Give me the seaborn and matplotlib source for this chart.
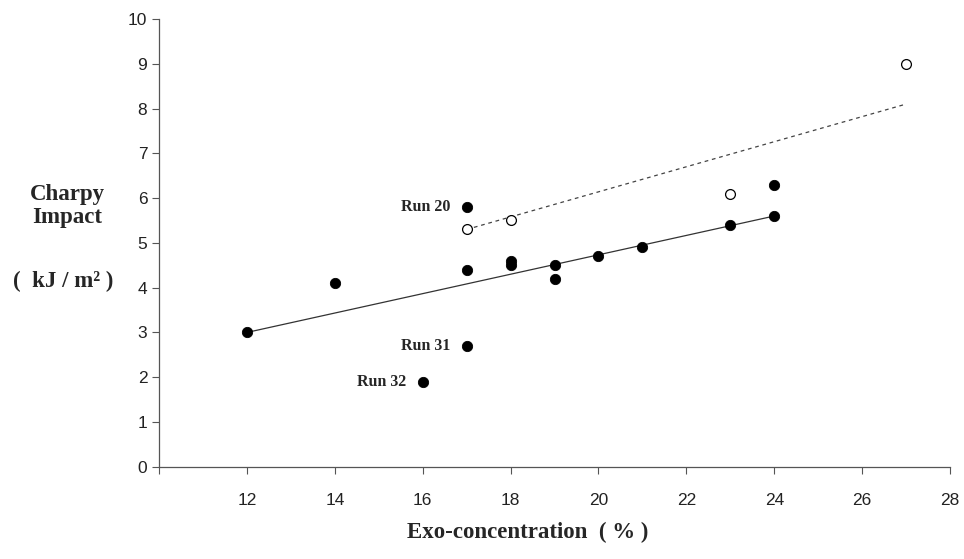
import numpy as np
import pandas as pd
import seaborn as sns
import matplotlib.pyplot as plt

# Filled points (main series)
exo_filled = [12, 14, 16, 17, 17, 17, 18, 18, 19, 19, 20, 21, 23, 24, 24]
charpy_filled = [3.0, 4.1, 1.9, 5.8, 4.4, 2.7, 4.6, 4.5, 4.5, 4.2, 4.7, 4.9, 5.4, 6.3, 5.6]

# Open points
exo_open = [17, 18, 23, 27]
charpy_open = [5.3, 5.5, 6.1, 9.0]

# Trend lines (end points)
fit_solid_x = [12, 24]
fit_solid_y = [3.0, 5.6]
fit_dash_x = [17, 27]
fit_dash_y = [5.3, 8.1]

# Labelled runs
run_labels = ['Run 20', 'Run 31', 'Run 32']
run_x = [17, 17, 16]
run_y = [5.8, 2.7, 1.9]

df_filled = pd.DataFrame({'Exo': exo_filled, 'Charpy': charpy_filled})
df_open = pd.DataFrame({'Exo': exo_open, 'Charpy': charpy_open})
df_solid = pd.DataFrame({'Exo': fit_solid_x, 'Charpy': fit_solid_y})
df_dash = pd.DataFrame({'Exo': fit_dash_x, 'Charpy': fit_dash_y})

sns.set_style("ticks")
plt.rcParams['font.family'] = ['Liberation Sans', 'DejaVu Sans']

fig = plt.figure(figsize=(9.64, 5.59), dpi=100)
ax = fig.add_axes([0.165, 0.165, 0.8205, 0.801])

sns.lineplot(x='Exo', y='Charpy', data=df_solid, color='#333333', lw=0.9, ax=ax)
sns.lineplot(x='Exo', y='Charpy', data=df_dash, color='#444444', lw=0.9,
             linestyle=(0, (3, 3)), ax=ax)
sns.scatterplot(x='Exo', y='Charpy', data=df_filled, color='black', s=55,
                edgecolor='black', linewidth=0.6, zorder=3, ax=ax)
sns.scatterplot(x='Exo', y='Charpy', data=df_open, facecolor='white', s=50,
                edgecolor='black', linewidth=0.9, zorder=3, ax=ax)

# Labels for the outlying runs
for lab, xv, yv in zip(run_labels, run_x, run_y):
    ax.annotate(lab, xy=(xv, yv), xytext=(-12, 0), textcoords='offset points',
                ha='right', va='center', fontsize=11.5, fontweight='bold',
                family='Liberation Serif')

ax.set_xlim(10, 28)
ax.set_ylim(0, 10)
ax.set_xticks(np.arange(10, 29, 2))
ax.set_xticklabels([''] + [str(v) for v in range(12, 29, 2)])
ax.set_yticks(np.arange(0, 11, 1))
ax.tick_params(axis='both', labelsize=12.5, length=5, width=0.8, color='#555555',
               labelcolor='#222222')
ax.tick_params(axis='x', pad=14)
sns.despine(ax=ax)
for s in ['left', 'bottom']:
    ax.spines[s].set_linewidth(0.9)
    ax.spines[s].set_color('#555555')
ax.set_xlabel('')
ax.set_ylabel('')

# Axis titles in serif bold
fig.text(67 / 964, 1 - 206 / 559, 'Charpy\nImpact', ha='center', va='center',
         fontsize=16.5, fontweight='bold', family='Liberation Serif', linespacing=1.1)
fig.text(63 / 964, 1 - 281 / 559, '(  kJ / m\u00b2 )', ha='center', va='center',
         fontsize=16.5, fontweight='bold', family='Liberation Serif')
fig.text(528 / 964, 1 - 532 / 559, 'Exo-concentration  ( % )', ha='center', va='center',
         fontsize=16.5, fontweight='bold', family='Liberation Serif')

plt.savefig('out.png', dpi=100)
